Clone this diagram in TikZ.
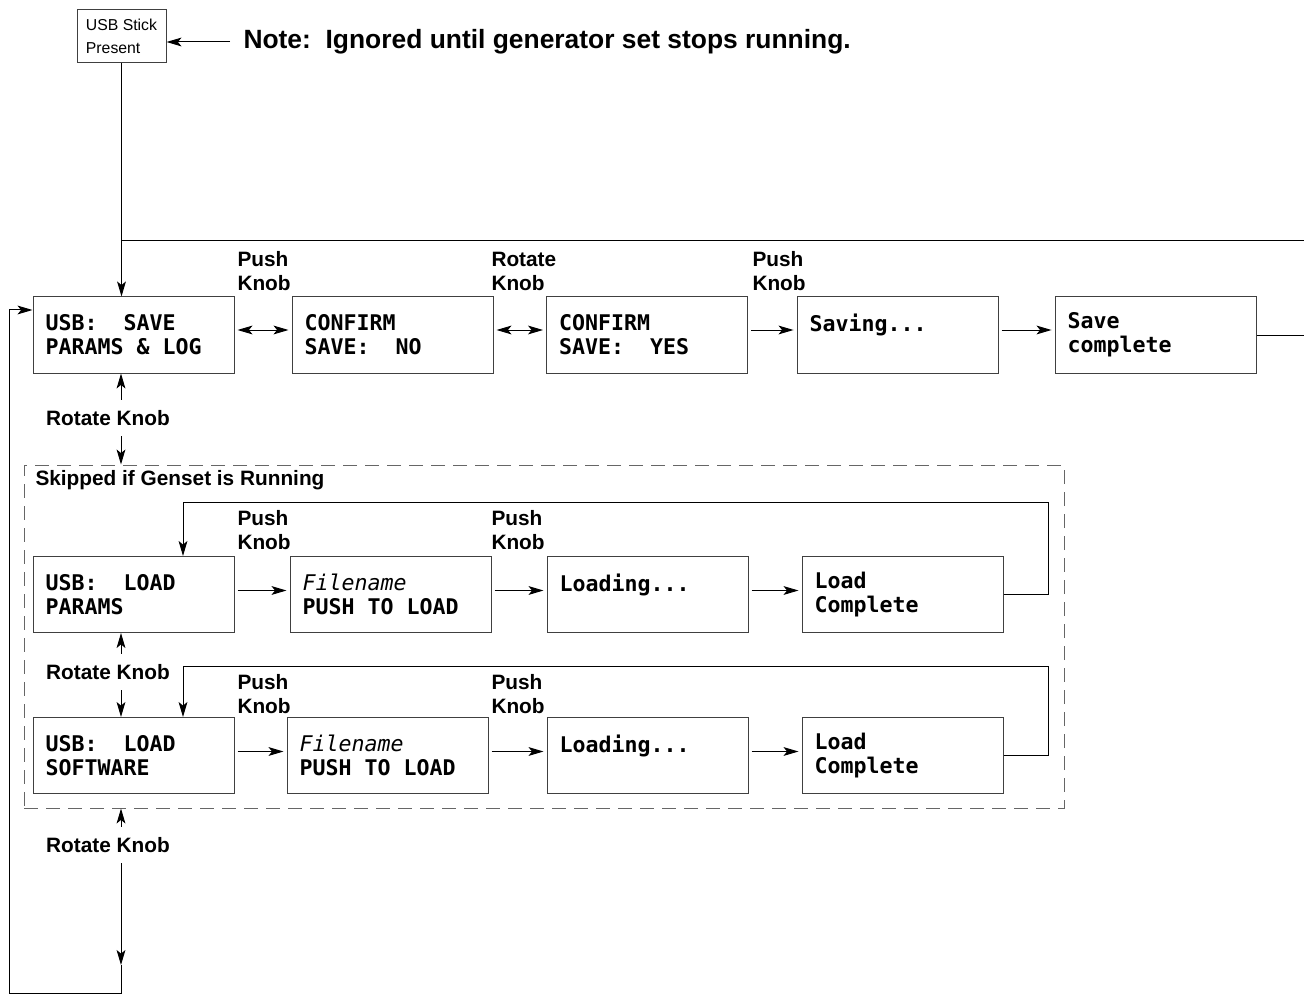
\documentclass[tikz,border=0pt]{standalone}
\usepackage{fontspec}
\setmainfont{Liberation Sans}
\newfontfamily\lcd{DejaVu Sans Mono}
\newcommand{\lcdgap}{\phantom{X}}
\usetikzlibrary{arrows.meta}

\begin{document}
\begin{tikzpicture}[x=0.5pt, y=-0.5pt, line width=0.5pt, >={Stealth[length=7.5pt, width=4.4pt, inset=1.8pt]},
	every node/.style={font=\bfseries\fontsize{10.4}{12}\selectfont},
	scr/.style={draw=black!75, minimum width=100.5pt, minimum height=38pt, text width=88pt, inner xsep=6pt, align=left, font=\lcd\bfseries\fontsize{10.8}{12}\selectfont},
	lbl/.style={anchor=west, align=left, inner sep=0pt},
	knob/.style={inner xsep=0pt, inner ysep=5pt},
	flow/.style={->, shorten <=1.5pt, shorten >=1.5pt}]
	\useasboundingbox (0,0) rectangle (1304,994);
	\coordinate (col) at (121,0);
	\coordinate (back) at (1304,241);
	% stick and note
	\node[draw=black!75, font=\fontsize{7.9}{11.5}\selectfont, align=left, inner xsep=4pt, minimum width=44.5pt, minimum height=26.5pt] (usb) at (121.5,36.5) {USB Stick\\Present};
	\node[lbl, font=\bfseries\fontsize{13.2}{15}\selectfont, inner xsep=6.5pt] (note) at (230,42) {Note:~~Ignored until generator set stops running.};
	\draw[->] (note.west) -- (usb.east |- note.west);
	% save row
	\node[scr] (save) at (133.5,335) {USB:\lcdgap\lcdgap SAVE\\PARAMS\lcdgap\&\lcdgap LOG};
	\node[scr] (cno) at (392.5,335) {CONFIRM\\SAVE:\lcdgap\lcdgap NO};
	\node[scr] (cyes) at (647,335) {CONFIRM\\SAVE:\lcdgap\lcdgap YES};
	\node[scr] (saving) at (897.5,335) {Saving...\\~};
	\node[scr] (saved) at (1155.5,335) {Save\\complete};
	\node[lbl] (push1) at (237,271) {Push\\Knob};
	\node[lbl] (turn0) at (491,271) {Rotate\\Knob};
	\node[lbl] (push2) at (752,271) {Push\\Knob};
	\draw[flow, <->] ([yshift=2.5pt]save.east) -- ([yshift=2.5pt]cno.west);
	\draw[flow, <->] ([yshift=2.5pt]cno.east) -- ([yshift=2.5pt]cyes.west);
	\draw[flow] ([yshift=2.5pt]cyes.east) -- ([yshift=2.5pt]saving.west);
	\draw[flow] ([yshift=2.5pt]saving.east) -- ([yshift=2.5pt]saved.west);
	\draw[->] (usb.south) -- (usb.south |- save.north);
	\draw (usb.south |- back) -- (back);
	\draw (saved.east) -- (saved.east -| back);
	% load rows
	\node[draw=black!60, dash pattern=on 7pt off 4pt, minimum width=520pt, minimum height=171.5pt, inner sep=0pt] (skip) at (544,636.5) {};
	\node[lbl] (skiplbl) at (35,480) {Skipped if Genset is Running};
	\foreach \r/\y/\fx/\fb/\pk/\what in {p/594.5/390.5/502/530/PARAMS, s/755.5/387.5/666/694/SOFTWARE} {
		\node[scr] (use\r) at (133.5,\y) {USB:\lcdgap\lcdgap LOAD\\\what};
		\node[scr] (file\r) at (\fx,\y) {{\mdseries\itshape Filename}\\PUSH\lcdgap TO\lcdgap LOAD};
		\node[scr] (busy\r) at (647.5,\y) {Loading...\\~};
		\node[scr] (done\r) at (902.5,\y) {Load\\Complete};
		\node[lbl] (pka\r) at (237,\pk) {Push\\Knob};
		\node[lbl] (pkb\r) at (491,\pk) {Push\\Knob};
		\coordinate (fb\r) at (1048,\fb);
		\draw[flow] ([yshift=2pt]use\r.east) -- ([yshift=2pt]file\r.west);
		\draw[flow] ([yshift=2pt]file\r.east) -- ([yshift=2pt]busy\r.west);
		\draw[flow] ([yshift=2pt]busy\r.east) -- ([yshift=2pt]done\r.west);
		\draw[->] (done\r.east) -| (fb\r) -| ([xshift=24.75pt]use\r.north);
	}
	% rotate knob column
	\node[knob] (turn1) at (108,418) {Rotate Knob};
	\node[knob] (turn2) at (108,672) {Rotate Knob};
	\node[knob] (turn3) at (108,845) {Rotate Knob};
	\draw[->] (turn1.north -| col) -- (save.south -| col);
	\draw[->] (turn1.south -| col) -- (skip.north -| col);
	\draw[->] (turn2.north -| col) -- (usep.south -| col);
	\draw[->] (turn2.south -| col) -- (uses.north -| col);
	\draw[->] (turn3.north -| col) -- (skip.south -| col);
	\coordinate (tip) at (121,965);
	\coordinate (bl) at (9,993);
	\draw[->] (turn3.south -| col) -- (tip);
	\draw[->] (tip) |- (bl) |- ([yshift=12.5pt]save.west);
\end{tikzpicture}
\end{document}
